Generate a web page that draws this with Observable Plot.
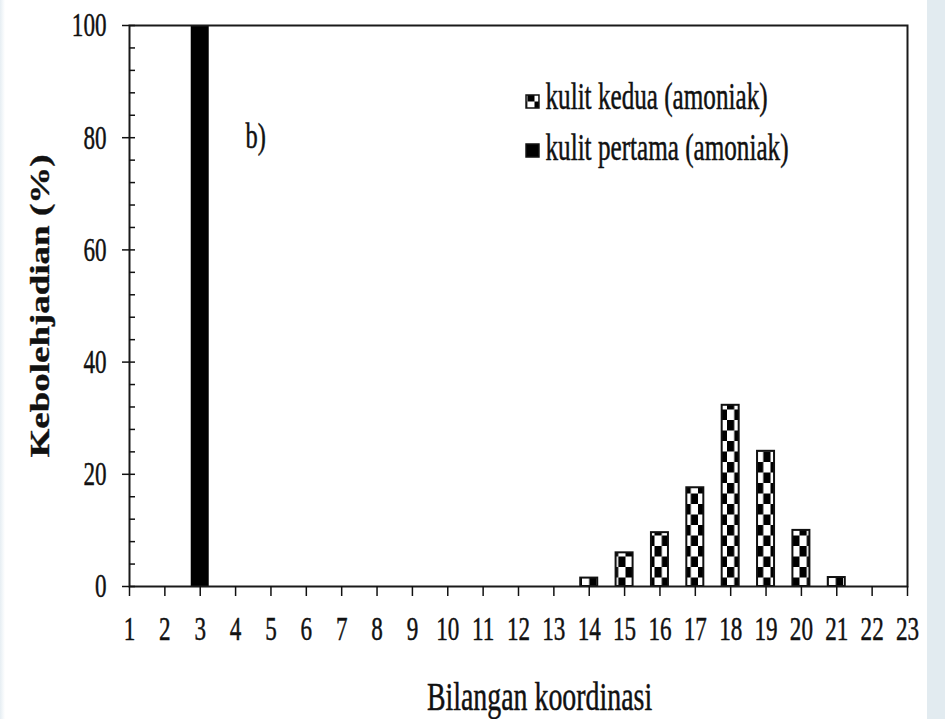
<!DOCTYPE html>
<html><head><meta charset="utf-8">
<script src="https://cdn.jsdelivr.net/npm/d3@7"></script>
<script src="https://cdn.jsdelivr.net/npm/@observablehq/plot@0.6"></script>
<style>
html,body{margin:0;padding:0;}
body{width:945px;height:719px;overflow:hidden;background:linear-gradient(to right,#e6eef3 0px,#ffffff 5px,#ffffff 927px,#e2ebf0 927px);}
#chart svg{display:block;}
</style></head><body><div id="chart"></div>
<script>
// ---- data ----
const coordTicks = d3.range(1, 24);            // x tick labels 1..23
const firstShellN = [3];
const firstShellP = [100];
const secondShellN = [14, 15, 16, 17, 18, 19, 20, 21];
const secondShellP = [1.5, 6, 9.6, 17.6, 32.3, 24.1, 10, 1.6];
const yMajorTicks = [0, 20, 40, 60, 80, 100];
const yMinorTicks = d3.range(0, 101, 4);
const legendLabels = ["kulit kedua (amoniak)", "kulit pertama (amoniak)"];
const xTitle = "Bilangan koordinasi";
const yTitle = "Kebolehjadian (%)";
const panelLabel = "b)";

// ---- layout / style ----
const W = 945, H = 719, mL = 129, mR = 38, mT = 25, mB = 133;
const plotW = W - mL - mR;
const FONT = "'Liberation Serif', 'Times New Roman', serif";
const INK = "#111";
const SX = 0.68;      // horizontal squeeze of the source picture's lettering

const first = firstShellN.map((n, i) => ({n, p: firstShellP[i]}));
const second = secondShellN.map((n, i) => ({n, p: secondShellP[i]}));

const chart = Plot.plot({
  width: W, height: H,
  marginLeft: mL, marginRight: mR, marginTop: mT, marginBottom: mB,
  style: {background: "transparent", color: INK, fontFamily: FONT, overflow: "visible"},
  x: {domain: [1, 23]},
  y: {domain: [0, 100]},
  marks: [
    Plot.rect(first, {x1: "n", x2: "n", y1: () => 0, y2: "p", fill: "#000", insetLeft: -9, insetRight: -9}),
    Plot.rect(second, {x1: "n", x2: "n", y1: () => 0, y2: "p", fill: "url(#checker)", stroke: INK, strokeWidth: 2, insetLeft: -8.5, insetRight: -8.5}),
    Plot.frame({stroke: "#1a1a1a", strokeWidth: 2}),
    Plot.axisX({ticks: coordTicks, tickSize: 10, tickPadding: 19, fontSize: 34, label: null, strokeWidth: 1.5, tickFormat: d => String(d)}),
    Plot.axisY({ticks: yMajorTicks, tickSize: 7, tickPadding: 16, fontSize: 34, label: null, strokeWidth: 1.5, tickFormat: d => String(d)}),
    Plot.tickY(yMinorTicks, {y: d => d, insetRight: plotW - 6, stroke: INK, strokeWidth: 1.5}),
    Plot.text([panelLabel], {text: d => d, frameAnchor: "top-left", dx: 116, dy: 111, textAnchor: "start", lineAnchor: "middle", fontSize: 36, fill: INK}),
    Plot.dot([legendLabels[0]], {frameAnchor: "top-left", dx: 403, dy: 76, symbol: "square", r: 7.3, fill: "url(#checker)", stroke: INK, strokeWidth: 1.5}),
    Plot.dot([legendLabels[1]], {frameAnchor: "top-left", dx: 403, dy: 125, symbol: "square", r: 7.3, fill: "#000", stroke: INK, strokeWidth: 1.5}),
    Plot.text([legendLabels[0]], {text: d => d, frameAnchor: "top-left", dx: 416, dy: 72, textAnchor: "start", lineAnchor: "middle", fontSize: 37, fill: INK}),
    Plot.text([legendLabels[1]], {text: d => d, frameAnchor: "top-left", dx: 416, dy: 123, textAnchor: "start", lineAnchor: "middle", fontSize: 37, fill: INK}),
    Plot.text([xTitle], {text: d => d, frameAnchor: "bottom", dx: 21, dy: 110, textAnchor: "middle", lineAnchor: "middle", fontSize: 41, fill: INK}),
    Plot.text([yTitle], {text: d => d, frameAnchor: "left", dx: -89, rotate: -90, textAnchor: "middle", lineAnchor: "middle", fontSize: 37, fontWeight: "bold", fill: INK})
  ]
});

// checker pattern used by the second-shell bars
const defs = d3.select(chart).insert("defs", ":first-child");
const pat = defs.append("pattern").attr("id", "checker").attr("patternUnits", "userSpaceOnUse")
  .attr("x", 2).attr("y", 0).attr("width", 14.5).attr("height", 21);
pat.append("rect").attr("width", 14.5).attr("height", 21).attr("fill", "#fff");
pat.append("rect").attr("width", 7.25).attr("height", 10.5).attr("fill", "#000");
pat.append("rect").attr("x", 7.25).attr("y", 10.5).attr("width", 7.25).attr("height", 10.5).attr("fill", "#000");

// squeeze lettering horizontally, like the source picture, and thicken it slightly
chart.querySelectorAll("text").forEach(t => {
  const tr = t.getAttribute("transform") || "";
  if (/rotate/.test(tr)) {
    t.setAttribute("transform", tr + " scale(1," + 0.73 + ")");
  } else {
    const x = parseFloat(t.getAttribute("x")) || 0;
    t.setAttribute("transform", tr + ` translate(${x},0) scale(${SX},1) translate(${-x},0)`);
  }
  t.style.stroke = INK;
  t.style.strokeWidth = "0.5px";
});

document.getElementById("chart").appendChild(chart);
</script></body></html>
